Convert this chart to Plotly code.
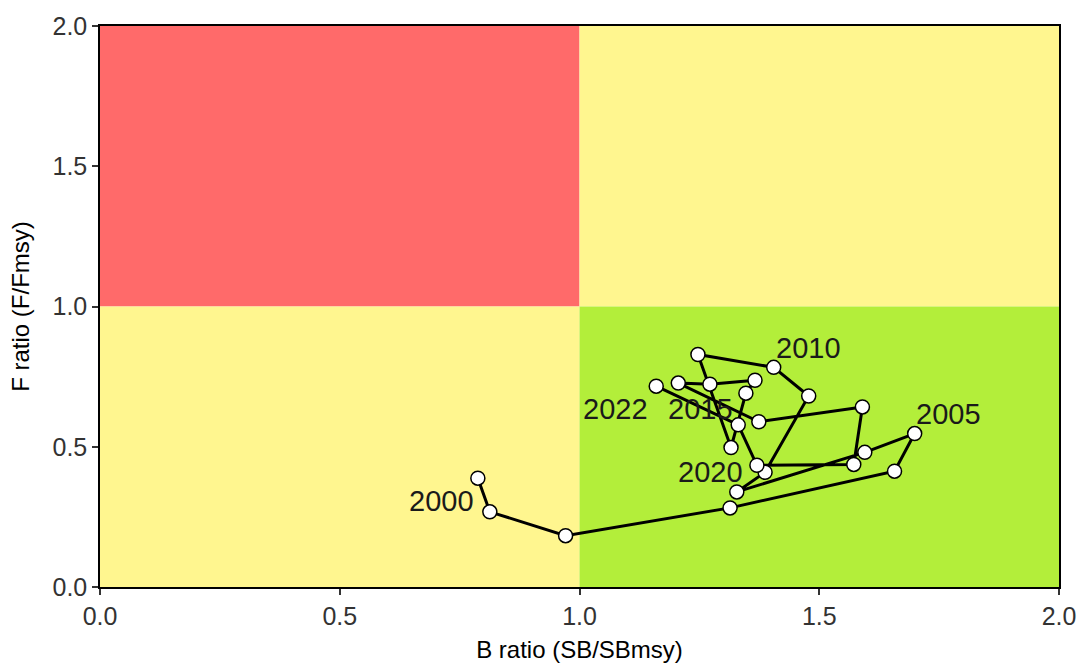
import plotly.graph_objects as go

years = list(range(2000, 2023))
b_ratio = [0.788, 0.813, 0.971, 1.314, 1.657, 1.699, 1.595, 1.328, 1.387, 1.478,
           1.405, 1.247, 1.316, 1.347, 1.366, 1.272, 1.206, 1.374, 1.590, 1.572,
           1.370, 1.331, 1.160]
f_ratio = [0.388, 0.268, 0.183, 0.282, 0.413, 0.547, 0.480, 0.339, 0.409, 0.681,
           0.783, 0.829, 0.497, 0.691, 0.737, 0.723, 0.727, 0.589, 0.642, 0.437,
           0.434, 0.578, 0.716]
label_years = [2000, 2005, 2010, 2015, 2020, 2022]
label_shift = {2000: (-36, -23), 2005: (34, 20), 2010: (35, 19),
               2015: (-9, -25), 2020: (-46, -7), 2022: (-41, -23)}

FONT = "Liberation Sans, Arial, sans-serif"
fig = go.Figure()

# Kobe quadrants
quads = [
    (0, 1, 1, 2, "#FF6A6A"),
    (1, 2, 1, 2, "#FFF68F"),
    (0, 1, 0, 1, "#FFF68F"),
    (1, 2, 0, 1, "#B3EE3A"),
]
for x0, x1, y0, y1, col in quads:
    fig.add_shape(type="rect", x0=x0, x1=x1, y0=y0, y1=y1, xref="x", yref="y",
                  fillcolor=col, line=dict(width=0), layer="below")

fig.add_trace(go.Scatter(
    x=b_ratio, y=f_ratio, mode="lines+markers",
    line=dict(color="black", width=3),
    marker=dict(size=14, color="white", line=dict(color="black", width=1.5)),
    hoverinfo="skip", showlegend=False,
))

for yr in label_years:
    i = years.index(yr)
    dx, dy = label_shift[yr]
    fig.add_annotation(x=b_ratio[i], y=f_ratio[i], text=str(yr), showarrow=False,
                       xshift=dx, yshift=dy,
                       font=dict(family=FONT, size=29, color="#1a1a1a"))

axis_common = dict(
    range=[0, 2], tickvals=[0, 0.5, 1.0, 1.5, 2.0],
    ticktext=["0.0", "0.5", "1.0", "1.5", "2.0"],
    showline=True, linecolor="black", linewidth=1.5, mirror=True,
    ticks="outside", ticklen=6, tickwidth=1.5, tickcolor="#333333",
    tickfont=dict(family=FONT, size=25, color="#333333"),
    showgrid=False, zeroline=False,
)

fig.update_layout(
    width=1088, height=671,
    margin=dict(l=100, r=26, t=21, b=83),
    paper_bgcolor="white", plot_bgcolor="white",
    xaxis=dict(title=dict(text="B ratio (SB/SBmsy)", standoff=12,
                          font=dict(family=FONT, size=24, color="black")),
               **axis_common),
    yaxis=dict(title=dict(text="F ratio (F/Fmsy)", standoff=16,
                          font=dict(family=FONT, size=24, color="black")),
               **axis_common),
)

fig.write_html("out.html")
